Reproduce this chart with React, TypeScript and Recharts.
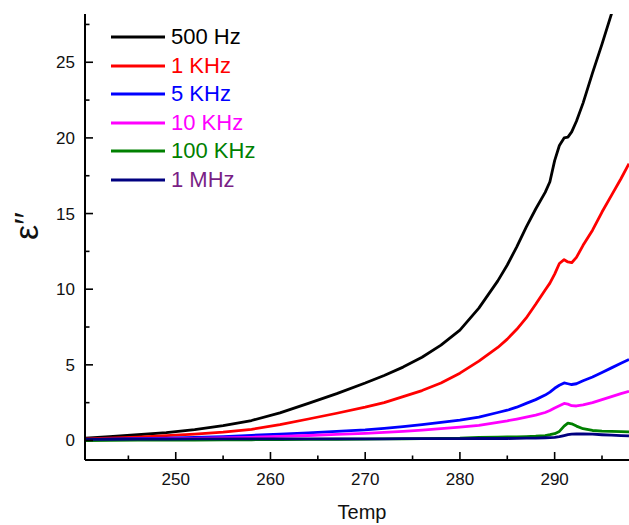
import React from 'react';
import { LineChart, Line, XAxis, YAxis, Legend, Customized } from 'recharts';

// temperature grid (finer around the 291 anomaly)
const temps = [
  240.5, 243, 246, 249, 252, 255, 258, 261, 264, 267, 270, 272, 274, 276, 278, 280,
  282, 284, 285, 286, 287, 288, 289, 289.5, 290, 290.5, 291, 291.4, 291.8, 292.3,
  293, 294, 295, 296, 297, 297.85,
];

const hz500 = [
  0.15, 0.25, 0.38, 0.52, 0.72, 0.98, 1.32, 1.82, 2.45, 3.1, 3.8, 4.3, 4.85, 5.5, 6.3, 7.3,
  8.75, 10.55, 11.6, 12.8, 14.1, 15.3, 16.4, 17.1, 18.5, 19.5, 20.0, 20.05, 20.4, 21.1,
  22.3, 24.3, 26.2, 28.2, 30.5, 32.5,
];
const khz1 = [
  0.1, 0.15, 0.22, 0.32, 0.42, 0.55, 0.74, 1.05, 1.42, 1.8, 2.2, 2.5, 2.9, 3.3, 3.8, 4.45,
  5.25, 6.15, 6.7, 7.35, 8.1, 9.0, 9.95, 10.4, 11.0, 11.7, 11.95, 11.8, 11.75, 12.1,
  12.9, 13.9, 15.1, 16.2, 17.3, 18.3,
];
const khz5 = [
  0.05, 0.08, 0.12, 0.16, 0.2, 0.26, 0.34, 0.42, 0.5, 0.6, 0.7, 0.8, 0.92, 1.05, 1.2, 1.35,
  1.55, 1.85, 2.0, 2.2, 2.45, 2.7, 3.0, 3.2, 3.45, 3.65, 3.8, 3.75, 3.7, 3.75,
  3.95, 4.2, 4.5, 4.8, 5.1, 5.35,
];
const khz10 = [
  0.05, 0.06, 0.08, 0.1, 0.13, 0.17, 0.21, 0.27, 0.33, 0.4, 0.47, 0.53, 0.6, 0.68, 0.78, 0.88,
  1.0, 1.2, 1.3, 1.42, 1.55, 1.68, 1.85, 1.98, 2.15, 2.3, 2.45, 2.4, 2.3, 2.28,
  2.35, 2.5, 2.7, 2.9, 3.1, 3.25,
];
const khz100 = [
  0.0, 0.01, 0.02, 0.02, 0.03, 0.04, 0.05, 0.06, 0.07, 0.08, 0.09, 0.1, 0.11, 0.12, 0.13, 0.15,
  0.2, 0.22, 0.23, 0.24, 0.26, 0.28, 0.32, 0.38, 0.45, 0.6, 0.95, 1.15, 1.1, 0.95,
  0.78, 0.66, 0.62, 0.6, 0.58, 0.57,
];
const mhz1 = [
  0.08, 0.08, 0.09, 0.09, 0.1, 0.1, 0.1, 0.1, 0.1, 0.11, 0.11, 0.11, 0.12, 0.12, 0.12, 0.12,
  0.13, 0.13, 0.13, 0.14, 0.15, 0.16, 0.18, 0.19, 0.2, 0.25, 0.32, 0.38, 0.42, 0.44,
  0.43, 0.42, 0.38, 0.35, 0.32, 0.3,
];

const seriesNames = ['500 Hz', '1 KHz', '5 KHz', '10 KHz', '100 KHz', '1 MHz'];
const lineColors = ['#000000', '#ff0000', '#0000ff', '#ff00ff', '#008000', '#000080'];
const textColors = ['#000000', '#ff0000', '#0000ff', '#ff00ff', '#008000', '#7a1f86'];
const seriesValues = [hz500, khz1, khz5, khz10, khz100, mhz1];

const xTicks = [245, 250, 255, 260, 265, 270, 275, 280, 285, 290, 295];
const yTicks = [0, 2.5, 5, 7.5, 10, 12.5, 15, 17.5, 20, 22.5, 25, 27.5];

const data = temps.map((t, i) => {
  const row: Record<string, number> = { t };
  seriesNames.forEach((name, k) => {
    row[name] = seriesValues[k][i];
  });
  return row;
});

const FONT = '"Liberation Sans", Arial, sans-serif';

const XTick = (props: any) => {
  const { x, y, payload } = props;
  const major = payload.value % 10 === 0;
  return (
    <g>
      <line x1={x} x2={x} y1={y} y2={y - (major ? 8 : 4.5)} stroke="#000" strokeWidth={1.6} />
      {major && (
        <text x={x} y={y + 25} textAnchor="middle" fontSize={17} fontFamily={FONT} fill="#111">
          {payload.value}
        </text>
      )}
    </g>
  );
};

const YTick = (props: any) => {
  const { x, y, payload } = props;
  const major = payload.value % 5 === 0;
  return (
    <g>
      <line x1={x} x2={x + (major ? 8 : 4.5)} y1={y} y2={y} stroke="#000" strokeWidth={1.6} />
      {major && (
        <text x={x - 10} y={y + 6} textAnchor="end" fontSize={17} fontFamily={FONT} fill="#111">
          {payload.value}
        </text>
      )}
    </g>
  );
};

const renderLegend = (props: any) => {
  const items = [...(props.payload || [])].sort(
    (a: any, b: any) => seriesNames.indexOf(a.value) - seriesNames.indexOf(b.value)
  );
  return (
    <div style={{ fontFamily: FONT }}>
      {items.map((entry: any) => {
        const idx = seriesNames.indexOf(entry.value);
        return (
          <div key={entry.value} style={{ display: 'flex', alignItems: 'center', height: 28.6 }}>
            <svg width={54} height={4} style={{ display: 'block' }}>
              <line x1={0} x2={54} y1={2} y2={2} stroke={entry.color} strokeWidth={3} />
            </svg>
            <span style={{ marginLeft: 6, fontSize: 22, lineHeight: 1, color: textColors[idx] }}>
              {entry.value}
            </span>
          </div>
        );
      })}
    </div>
  );
};

const AxisTitles = () => (
  <g fontFamily={FONT} fill="#111">
    <text x={362} y={519} textAnchor="middle" fontSize={20}>
      Temp
    </text>
    <text x={38} y={226} textAnchor="middle" fontSize={34} transform="rotate(-90 38 226)">
      ε′′
    </text>
  </g>
);

export default function App() {
  return (
    <div style={{ position: 'absolute', left: 0, top: 0, background: '#fff' }}>
      <LineChart width={629} height={525} data={data} margin={{ top: 14, right: 0, bottom: 0, left: 0 }}>
        <XAxis
          dataKey="t"
          type="number"
          domain={[240.42, 297.85]}
          allowDataOverflow
          ticks={xTicks}
          interval={0}
          height={65}
          tickSize={0}
          tickMargin={0}
          tickLine={false}
          tick={<XTick />}
          axisLine={{ stroke: '#000', strokeWidth: 2 }}
        />
        <XAxis
          xAxisId="top"
          orientation="top"
          dataKey="t"
          type="number"
          domain={[240.42, 297.85]}
          allowDataOverflow
          height={0}
          tick={false}
          tickLine={false}
          axisLine={{ stroke: '#000', strokeWidth: 2 }}
        />
        <YAxis
          type="number"
          domain={[-1.29, 28.19]}
          allowDataOverflow
          ticks={yTicks}
          interval={0}
          width={85}
          tickSize={0}
          tickMargin={0}
          tickLine={false}
          tick={<YTick />}
          axisLine={{ stroke: '#000', strokeWidth: 2 }}
        />
        {seriesNames.map((name, k) => (
          <Line
            key={name}
            dataKey={name}
            name={name}
            type="linear"
            stroke={lineColors[k]}
            strokeWidth={2.8}
            strokeLinejoin="round"
            dot={false}
            isAnimationActive={false}
          />
        ))}
        <Legend
          layout="vertical"
          align="center"
          verticalAlign="middle"
          content={renderLegend}
          wrapperStyle={{ left: 111, top: 22.7, width: 'auto' }}
        />
        <Customized component={AxisTitles} />
      </LineChart>
    </div>
  );
}
